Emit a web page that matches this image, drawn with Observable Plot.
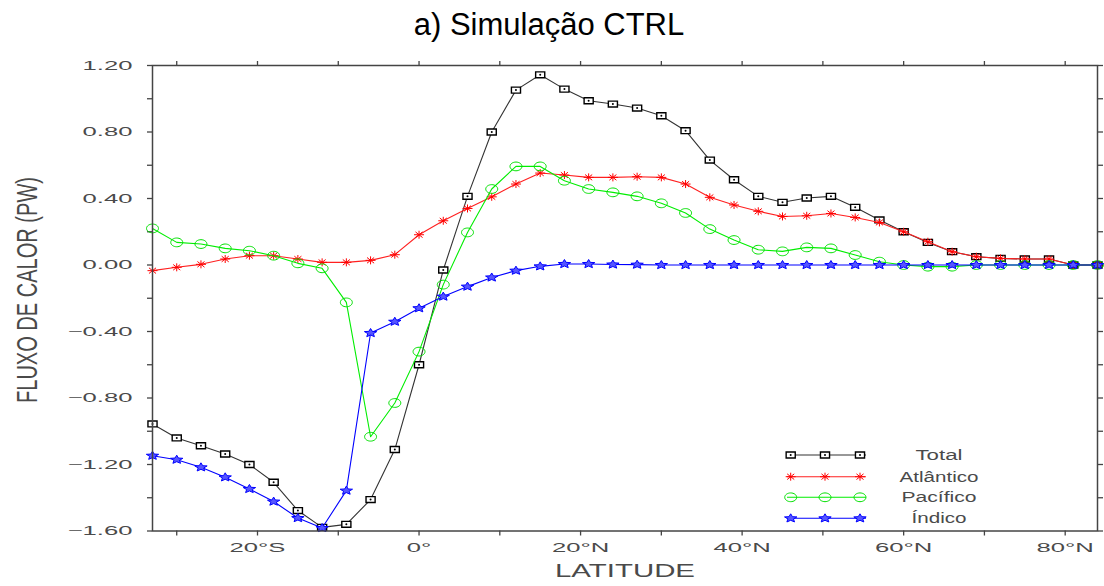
<!DOCTYPE html>
<html><head><meta charset="utf-8">
<script src="https://cdn.jsdelivr.net/npm/d3@7"></script>
<script src="https://cdn.jsdelivr.net/npm/@observablehq/plot@0.6"></script>
<style>
body{margin:0;background:#fff;}
#title{height:50px;width:1104px;font-family:"Liberation Sans",Arial,sans-serif;font-size:31px;line-height:50px;text-align:center;color:#000;box-sizing:border-box;padding-right:6px;}
#chart svg{display:block;}
</style></head><body>
<div id="title">a) Simulação CTRL</div>
<div id="chart"></div>
<script>
const latitude = [-33,-30,-27,-24,-21,-18,-15,-12,-9,-6,-3,0,3,6,9,12,15,18,21,24,27,30,33,36,39,42,45,48,51,54,57,60,63,66,69,72,75,78,81,84];
const total = [-0.956,-1.04,-1.087,-1.137,-1.20,-1.307,-1.477,-1.578,-1.56,-1.411,-1.11,-0.60,-0.03,0.413,0.80,1.052,1.144,1.058,0.988,0.968,0.944,0.898,0.808,0.631,0.513,0.413,0.377,0.403,0.413,0.347,0.271,0.20,0.136,0.08,0.05,0.04,0.036,0.036,0.0,0.0];
const atlantico = [-0.034,-0.014,0.004,0.036,0.056,0.056,0.036,0.016,0.016,0.028,0.062,0.182,0.266,0.34,0.41,0.487,0.553,0.541,0.527,0.527,0.531,0.527,0.487,0.407,0.361,0.323,0.292,0.296,0.31,0.286,0.256,0.20,0.14,0.08,0.05,0.04,0.036,0.036,0.0,0.0];
const pacifico = [0.22,0.136,0.126,0.10,0.086,0.056,0.01,-0.02,-0.225,-1.033,-0.83,-0.521,-0.118,0.196,0.457,0.593,0.593,0.507,0.457,0.437,0.413,0.371,0.313,0.216,0.15,0.092,0.082,0.106,0.10,0.06,0.02,0.0,-0.01,-0.01,0.0,0.0,0.0,0.0,0.0,0.0];
const indico = [-1.147,-1.171,-1.217,-1.277,-1.347,-1.423,-1.522,-1.582,-1.357,-0.409,-0.341,-0.26,-0.19,-0.13,-0.075,-0.034,-0.008,0.006,0.006,0.003,0.002,0,0,0,0,0,0,0,0,0,0,0,0,0,0,0,0,0,0,0];
const seriesNames = ["Total","Atlântico","Pacífico","Índico"];
const xTicks = [-30,-20,-10,0,10,20,30,40,50,60,70,80];
const xLabelValues = [-20,0,20,40,60,80];
const xLabelTexts = ["20°S","0°","20°N","40°N","60°N","80°N"];
const yTicks = [1.2,1.0,0.8,0.6,0.4,0.2,0,-0.2,-0.4,-0.6,-0.8,-1.0,-1.2,-1.4,-1.6];
const yLabelValues = [1.2,0.8,0.4,0,-0.4,-0.8,-1.2,-1.6];
const yLabelTexts = ["1.20","0.80","0.40","0.00","\u22120.40","\u22120.80","\u22121.20","\u22121.60"];
const xLabel = "LATITUDE";
const yLabel = "FLUXO DE CALOR (PW)";

// custom symbols
const rectSym = {draw(c,s){const r=Math.sqrt(s/Math.PI),w=r*1.3,h=r*0.85;c.moveTo(-w,-h);c.lineTo(w,-h);c.lineTo(w,h);c.lineTo(-w,h);c.closePath();}};
const ellipseSym = {draw(c,s){const r=Math.sqrt(s/Math.PI),rx=r*1.3,ry=r*0.95;for(let k=0;k<=32;k++){const a=k/32*2*Math.PI,x=rx*Math.cos(a),y=ry*Math.sin(a);k?c.lineTo(x,y):c.moveTo(x,y);}c.closePath();}};
const asteriskSym = {draw(c,s){const r=Math.sqrt(s/Math.PI),rx=r*1.25,ry=r;for(const a of [0,Math.PI/4,Math.PI/2,3*Math.PI/4]){c.moveTo(-rx*Math.cos(a),-ry*Math.sin(a));c.lineTo(rx*Math.cos(a),ry*Math.sin(a));}}};
const starSym = {draw(c,s){const r=Math.sqrt(s/Math.PI);for(let k=0;k<10;k++){const a=-Math.PI/2+k*Math.PI/5,rr=k%2?r*0.45:r;const x=rr*Math.cos(a)*1.3,y=rr*Math.sin(a)*0.9;k?c.lineTo(x,y):c.moveTo(x,y);}c.closePath();}};

const series = [
  {name:seriesNames[0], values:total, line:"#333", stroke:"#000", fill:"#fff", symbol:rectSym, r:3.5, sw:1.4},
  {name:seriesNames[1], values:atlantico, line:"#ff2020", stroke:"#ff0000", fill:"none", symbol:asteriskSym, r:4, sw:1},
  {name:seriesNames[2], values:pacifico, line:"#00ee00", stroke:"#00e000", fill:"none", symbol:ellipseSym, r:4.6, sw:1},
  {name:seriesNames[3], values:indico, line:"#0000ff", stroke:"#0000ff", fill:"#5555ff", symbol:starSym, r:5, sw:1}
];

const marks = [];
for (const s of series) {
  const data = latitude.map((lat,i)=>({lat, v:s.values[i]}));
  marks.push(Plot.line(data,{x:"lat",y:"v",stroke:s.line,strokeWidth:1.1}));
  marks.push(Plot.dot(data,{x:"lat",y:"v",symbol:()=>s.symbol,r:s.r,stroke:s.stroke,fill:s.fill,strokeWidth:s.sw}));
  if (s.symbol===rectSym) marks.push(Plot.dot(data,{x:"lat",y:"v",r:1,fill:"#000"}));
}

const axisColor = "#444";
const chart = Plot.plot({
  width:1104, height:536,
  marginTop:15, marginBottom:55.5, marginLeft:152, marginRight:7,
  style:{fontFamily:"'Liberation Sans',Arial,sans-serif",fontSize:"12.5px",color:"#4a4a4a",background:"#fff"},
  x:{domain:[-33,84]},
  y:{domain:[-1.6,1.2]},
  marks:[
    Plot.axisX({anchor:"bottom",ticks:xTicks,tickSize:5,tickFormat:()=>"",label:null,stroke:axisColor,strokeWidth:1.3}),
    Plot.axisX({anchor:"top",ticks:xTicks,tickSize:5,tickFormat:()=>"",label:null,stroke:axisColor,strokeWidth:1.3}),
    Plot.axisY({anchor:"left",ticks:yTicks,tickSize:5,tickFormat:()=>"",label:null,stroke:axisColor,strokeWidth:1.3}),
    Plot.axisY({anchor:"right",ticks:yTicks,tickSize:5,tickFormat:()=>"",label:null,stroke:axisColor,strokeWidth:1.3}),
    Plot.axisX({anchor:"bottom",ticks:xLabelValues,tickSize:0,tickPadding:12,tickFormat:d=>xLabelTexts[xLabelValues.indexOf(d)],label:null}),
    Plot.axisY({anchor:"left",ticks:yLabelValues,tickSize:0,tickPadding:20,tickFormat:d=>yLabelTexts[yLabelValues.indexOf(d)],label:null}),
    ...marks,
    Plot.frame({stroke:axisColor,strokeWidth:1.5})
  ]
});
document.getElementById("chart").appendChild(chart);

const svg = d3.select(chart);
// stretch tick labels horizontally (wide plotting font)
svg.selectAll('g[aria-label="x-axis tick label"] text, g[aria-label="y-axis tick label"] text').each(function(){
  if (!this.textContent) return;
  const L = this.getComputedTextLength();
  if (L>0){ this.setAttribute("textLength", (L*2.05).toFixed(1)); this.setAttribute("lengthAdjust","spacingAndGlyphs"); }
});

// axis titles
svg.append("text").text(xLabel)
  .attr("x",625).attr("y",526.7).attr("text-anchor","middle")
  .attr("font-family","'Liberation Sans',Arial,sans-serif").attr("font-size",18).attr("fill","#4a4a4a")
  .attr("textLength",140).attr("lengthAdjust","spacingAndGlyphs");
svg.append("text").text(yLabel)
  .attr("transform","translate(37,240) rotate(-90)").attr("text-anchor","middle")
  .attr("font-family","'Liberation Sans',Arial,sans-serif").attr("font-size",30).attr("fill","#4a4a4a")
  .attr("textLength",226).attr("lengthAdjust","spacingAndGlyphs");

// legend
const legendRows = [405,426.7,447.3,468.3];
const legendTextLen = [47,79,75,55];
const lg = svg.append("g").attr("aria-label","legend");
series.forEach((s,i)=>{
  const y = legendRows[i];
  lg.append("line").attr("x1",787).attr("x2",866).attr("y1",y).attr("y2",y).attr("stroke",s.line).attr("stroke-width",1.1);
  for (const x of [790.7,825,860]) {
    lg.append("path").attr("transform",`translate(${x},${y})`)
      .attr("d",d3.symbol().type(s.symbol).size(s.r*s.r*Math.PI)())
      .attr("stroke",s.stroke).attr("fill",s.fill).attr("stroke-width",s.sw);
    if (s.symbol===rectSym) lg.append("circle").attr("cx",x).attr("cy",y).attr("r",1).attr("fill","#000");
  }
  lg.append("text").text(s.name).attr("x",939).attr("y",y+5).attr("text-anchor","middle")
    .attr("font-family","'Liberation Sans',Arial,sans-serif").attr("font-size",14).attr("fill","#4a4a4a")
    .attr("textLength",legendTextLen[i]).attr("lengthAdjust","spacingAndGlyphs");
});
</script>
</body></html>
